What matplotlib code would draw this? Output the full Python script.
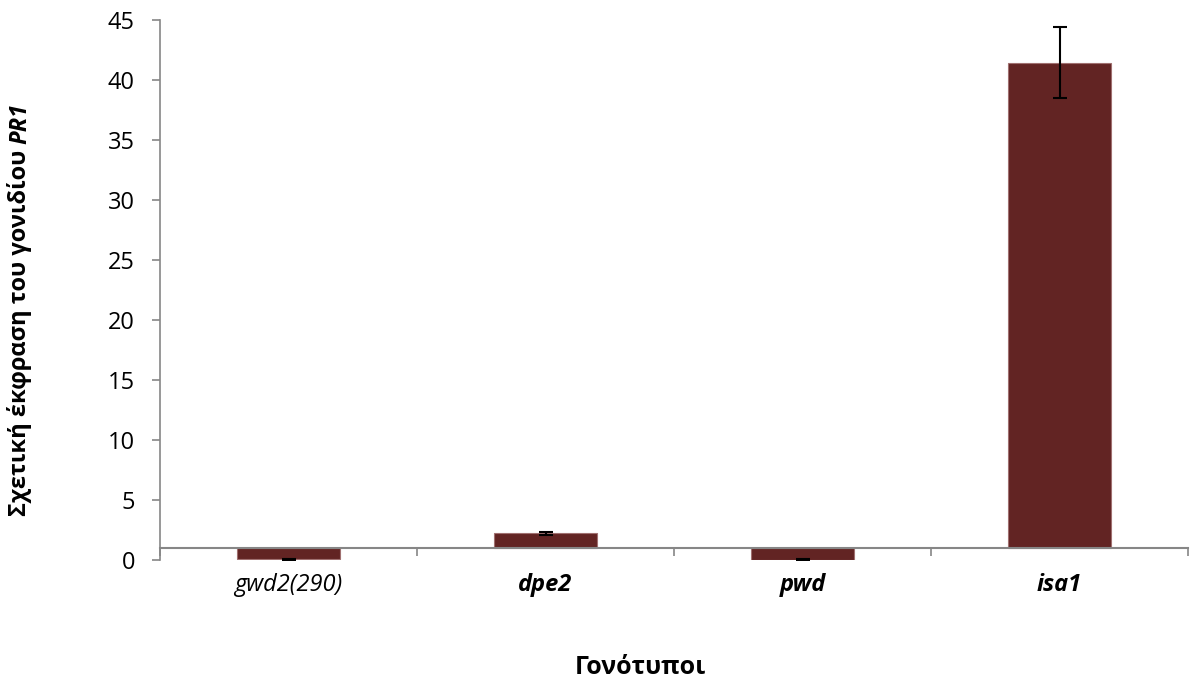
import numpy as np
import matplotlib.pyplot as plt

plt.rcParams['font.family'] = ['Open Sans', 'DejaVu Sans']

genotypes = ['gwd2(290)', 'dpe2', 'pwd', 'isa1']
label_bold = [False, True, True, True]
expression = [0.06, 2.22, 0.02, 41.45]
errors = [0.05, 0.15, 0.05, 2.93]
baseline = 1.0

bar_color = '#622423'
axis_gray = '#868686'

fig = plt.figure(figsize=(11.92, 6.81), dpi=100)
ax = fig.add_axes([160 / 1192, 1 - 560 / 681, 1028 / 1192, 540 / 681])

x = np.arange(len(genotypes))
heights = [v - baseline for v in expression]
ax.bar(x, heights, bottom=baseline, width=0.4, color=bar_color,
       edgecolor='#a07070', linewidth=0.8, zorder=2)
ax.errorbar(x, expression, yerr=errors, fmt='none', ecolor='black',
            elinewidth=1.5, capsize=5, capthick=1.5, zorder=3)

ax.set_xlim(-0.5, len(genotypes) - 0.5)
ax.set_ylim(0, 45)
ax.set_yticks(np.arange(0, 46, 5))
ax.tick_params(axis='y', direction='out', length=6, width=1.2, color=axis_gray,
               labelsize=17, pad=12)

# horizontal axis crosses at the baseline value
ax.spines['bottom'].set_position(('data', baseline))
ax.spines['bottom'].set_color(axis_gray)
ax.spines['bottom'].set_linewidth(1.5)
ax.spines['left'].set_color(axis_gray)
ax.spines['left'].set_linewidth(1.2)
ax.spines['top'].set_visible(False)
ax.spines['right'].set_visible(False)
ax.set_xticks(np.arange(-0.5, len(genotypes)))
ax.set_xticklabels([])
ax.tick_params(axis='x', direction='out', length=6, width=1.2, color=axis_gray)

for xi, name, bold in zip(x, genotypes, label_bold):
    ax.text(xi, -0.046, name, transform=ax.get_xaxis_transform(),
            ha='center', va='center', fontsize=17, style='italic',
            fontweight='bold' if bold else 'normal')

fig.text(640 / 1192, 1 - 667 / 681, 'Γονότυποι', ha='center', va='center',
         fontsize=18, fontweight='bold')

ylab = fig.text(20 / 1192, 1 - 330 / 681, 'Σχετική έκφραση του γονιδίου ',
                rotation=90, ha='center', va='center', fontsize=17,
                fontweight='bold')
ax.annotate('PR1', xy=(0.5, 1.0), xycoords=ylab, rotation=90,
            ha='center', va='bottom', fontsize=17, fontweight='bold',
            style='italic', annotation_clip=False)

fig.savefig('out.png', dpi=100)
